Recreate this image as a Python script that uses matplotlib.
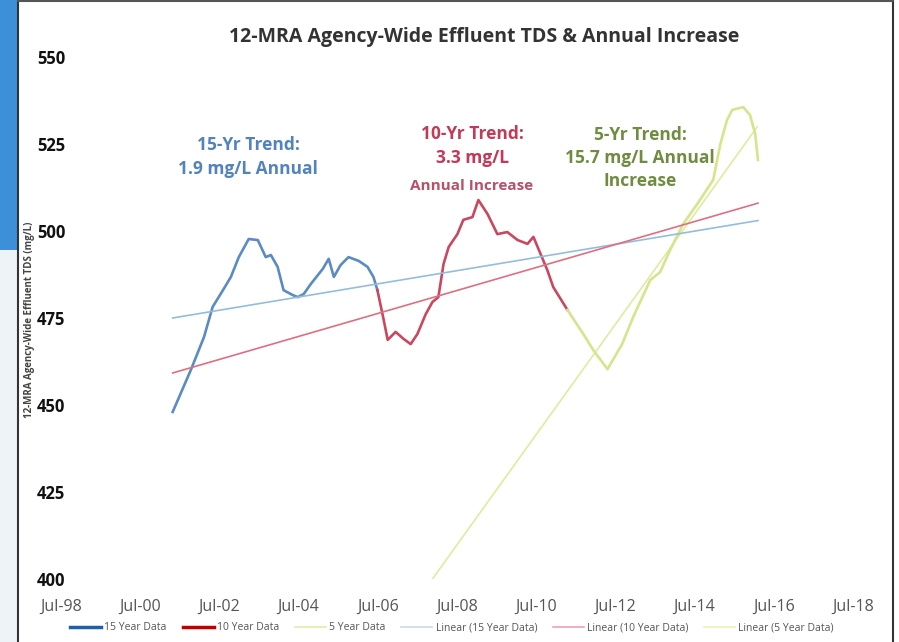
import matplotlib
matplotlib.use("Agg")
import matplotlib.pyplot as plt
from matplotlib.lines import Line2D
from matplotlib.patches import Rectangle

plt.rcParams['font.family'] = ['Open Sans', 'DejaVu Sans']

# ---- data (decimal years, mg/L) ----
yr15 = [2001.32, 2001.78, 2002.11, 2002.33, 2002.59, 2002.79, 2002.99, 2003.24, 2003.47,
        2003.67, 2003.80, 2003.97, 2004.12, 2004.35, 2004.48, 2004.63, 2004.81, 2005.11,
        2005.26, 2005.39, 2005.56, 2005.76, 2006.02, 2006.24, 2006.39, 2006.49]
val15 = [448.0, 460.1, 469.5, 478.2, 483.0, 486.8, 492.5, 497.7, 497.4,
         492.5, 493.1, 489.7, 483.0, 481.6, 481.0, 481.9, 484.8, 489.1,
         492.0, 486.8, 490.2, 492.5, 491.4, 489.7, 486.8, 483.0]

yr10 = [2006.49, 2006.65, 2006.75, 2006.95, 2007.15, 2007.33, 2007.50, 2007.71, 2007.88,
        2008.03, 2008.16, 2008.29, 2008.51, 2008.66, 2008.89, 2009.04, 2009.27, 2009.52,
        2009.77, 2010.03, 2010.28, 2010.43, 2010.61, 2010.78, 2010.93, 2011.29]
val10 = [483.0, 474.4, 468.7, 471.0, 469.0, 467.5, 470.4, 476.1, 479.6,
         481.0, 490.5, 495.4, 499.1, 503.2, 504.0, 508.9, 504.9, 499.1,
         499.7, 497.4, 496.3, 498.3, 493.4, 488.8, 483.9, 477.3]

yr5 = [2011.29, 2011.69, 2011.94, 2012.30, 2012.67, 2012.95, 2013.38, 2013.63, 2013.88,
       2014.21, 2014.57, 2014.97, 2015.15, 2015.32, 2015.45, 2015.73, 2015.90, 2016.03, 2016.10]
val5 = [477.3, 470.4, 465.8, 460.3, 467.5, 475.3, 485.9, 488.2, 494.5,
        502.0, 507.8, 514.7, 525.0, 531.9, 534.8, 535.6, 533.3, 527.9, 520.4]

trend15_yr = [2001.32, 2016.10]
trend15_val = [475.0, 503.0]
trend10_yr = [2001.32, 2016.10]
trend10_val = [459.2, 508.0]
trend5_yr = [2007.88, 2016.08]
trend5_val = [400.0, 529.9]

xtick_pos = [1998.5, 2000.5, 2002.5, 2004.5, 2006.5, 2008.5, 2010.5, 2012.5, 2014.5, 2016.5, 2018.5]
xtick_labels = ['Jul-98', 'Jul-00', 'Jul-02', 'Jul-04', 'Jul-06', 'Jul-08',
                'Jul-10', 'Jul-12', 'Jul-14', 'Jul-16', 'Jul-18']
ytick_pos = [400, 425, 450, 475, 500, 525, 550]

W, H = 899, 642
fig = plt.figure(figsize=(W / 100, H / 100), dpi=100)

# frame decorations (screenshot borders)
fig.patches.append(Rectangle((0, 1 - 250 / H), 17 / W, 250 / H, transform=fig.transFigure,
                             facecolor='#3d8fd8', edgecolor='none', zorder=0))
fig.patches.append(Rectangle((0, 0), 17 / W, 1 - 250 / H, transform=fig.transFigure,
                             facecolor='#eef3f8', edgecolor='none', zorder=0))
fig.add_artist(Line2D([18 / W, 18 / W], [0, 1], transform=fig.transFigure, color='#333333', lw=1.5))
fig.add_artist(Line2D([893 / W, 893 / W], [0, 1], transform=fig.transFigure, color='#333333', lw=1.5))
fig.add_artist(Line2D([18 / W, 893 / W], [1 - 1 / H, 1 - 1 / H], transform=fig.transFigure, color='#555555', lw=1.5))

ax = fig.add_axes([61 / W, 1 - 579 / H, 792 / W, 522 / H])
ax.set_facecolor('none')

c15, c10, c5 = '#5a8bc2', '#c9485f', '#d6e48c'
t15, t10, t5 = '#93bddd', '#de6f82', '#e2ea9f'

ax.plot(trend5_yr, trend5_val, color=t5, lw=1.2, zorder=2)
ax.plot(yr15, val15, color=c15, lw=1.9, zorder=3)
ax.plot(yr10, val10, color=c10, lw=1.9, zorder=3)
ax.plot(yr5, val5, color=c5, lw=1.9, zorder=3)
ax.plot(trend15_yr, trend15_val, color=t15, lw=1.2, zorder=4)
ax.plot(trend10_yr, trend10_val, color=t10, lw=1.2, zorder=4)

ax.set_xlim(1998.5, 2018.5)
ax.set_ylim(400, 550)
ax.set_xticks(xtick_pos)
ax.set_xticklabels(xtick_labels, fontsize=11.5, color='#555555')
ax.set_yticks(ytick_pos)
ax.set_yticklabels([str(v) for v in ytick_pos], fontsize=12, fontweight='bold', color='#111111')
ax.tick_params(axis='x', length=0, pad=14)
ax.tick_params(axis='y', length=0, pad=-3)
for s in ax.spines.values():
    s.set_visible(False)

fig.text(484 / W, 1 - 37 / H, '12-MRA Agency-Wide Effluent TDS & Annual Increase',
         ha='center', va='center', fontsize=14, fontweight='bold', color='#333333')
fig.text(30 / W, 1 - 320 / H, '12-MRA Agency-Wide Effluent TDS (mg/L)', rotation=90,
         ha='center', va='center', fontsize=7, fontweight='bold', color='#444444')

# annotations
fig.text(248 / W, 1 - 157 / H, '15-Yr Trend:\n1.9 mg/L Annual', ha='center', va='center',
         fontsize=12.5, fontweight='bold', color='#5283bd', linespacing=1.5)
fig.text(472 / W, 1 - 146 / H, '10-Yr Trend:\n3.3 mg/L', ha='center', va='center',
         fontsize=12.5, fontweight='bold', color='#c23a58', linespacing=1.45)
fig.text(472 / W, 1 - 186 / H, 'Annual Increase', ha='center', va='center',
         fontsize=11, fontweight='bold', color='#b85066')
fig.text(640 / W, 1 - 158 / H, '5-Yr Trend:\n15.7 mg/L Annual\nIncrease', ha='center', va='center',
         fontsize=12.5, fontweight='bold', color='#6f8c40', linespacing=1.35)

handles = [
    Line2D([], [], color='#1f5fa8', lw=2.5),
    Line2D([], [], color='#c00000', lw=2.5),
    Line2D([], [], color='#e4eca8', lw=1.2),
    Line2D([], [], color='#c4dcef', lw=1.2),
    Line2D([], [], color='#f0a0b0', lw=1.2),
    Line2D([], [], color='#eef0b8', lw=1.2),
]
labels = ['15 Year Data', '10 Year Data', '5 Year Data',
          'Linear (15 Year Data)', 'Linear (10 Year Data)', 'Linear (5 Year Data)']
fig.legend(handles, labels, loc='center', bbox_to_anchor=(452 / W, 1 - 628 / H), ncol=6,
           frameon=False, fontsize=7.5, labelcolor='#555555', handlelength=3.0,
           handletextpad=0.3, columnspacing=1.5)

fig.savefig('out.png', dpi=100)
